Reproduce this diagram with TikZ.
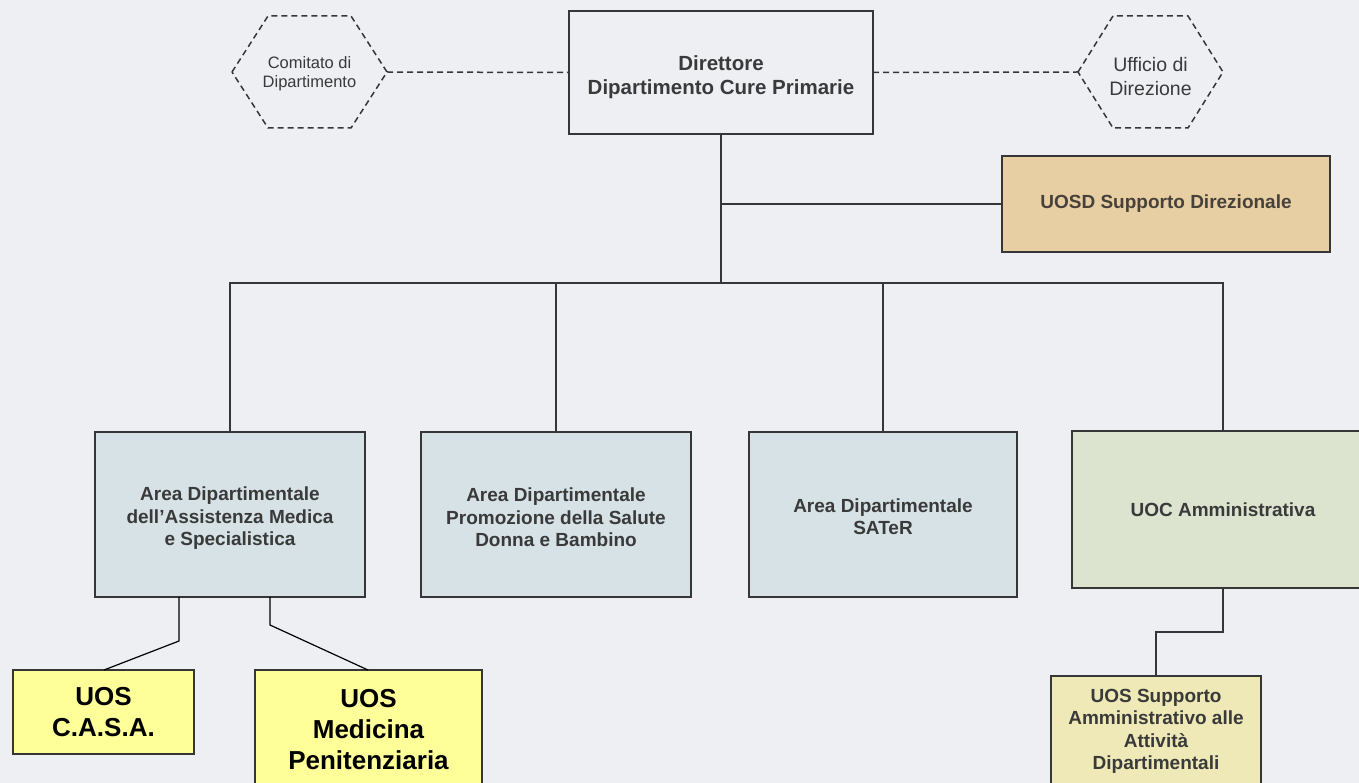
\documentclass[tikz,border=0pt]{standalone}
\usepackage{fontspec}
\setmainfont{Liberation Sans}
\definecolor{bgcol}{HTML}{EDEFF3}
\definecolor{linecol}{HTML}{363636}
\definecolor{txtcol}{HTML}{3A3A3A}
\definecolor{areafill}{HTML}{D6E2E6}
\definecolor{tanfill}{HTML}{E8CFA3}
\definecolor{greenfill}{HTML}{DCE4CF}
\definecolor{paleyellow}{HTML}{EEE9B6}
\definecolor{brightyellow}{HTML}{FFFF99}
\tikzset{
  boxbase/.style={draw=linecol, line width=1.8pt, rectangle, outer sep=0pt, inner sep=2pt, align=center, text=txtcol},
  dirbox/.style={boxbase, fill=bgcol},
  dirtext/.style={align=center, text=txtcol, inner sep=0pt, font=\fontsize{20.5}{24}\selectfont\bfseries},
  areabox/.style={boxbase, fill=areafill},
  areatext/.style={align=center, text=txtcol, inner sep=0pt, font=\fontsize{19}{22.5}\selectfont\bfseries},
  hexnode/.style={rectangle, outer sep=0pt, inner sep=0pt},
  hextext/.style={align=center, text=txtcol, inner sep=0pt},
  dashline/.style={draw=linecol, line width=1.5pt, dash pattern=on 6pt off 4pt},
  conn/.style={draw=linecol, line width=1.8pt},
  thinconn/.style={draw=black, line width=1.2pt},
  uosbox/.style={draw=linecol, line width=1.6pt, rectangle, outer sep=0pt, inner sep=2pt, align=center, fill=brightyellow, text=black, font=\fontsize{26}{31}\selectfont\bfseries}
}
\begin{document}
\begin{tikzpicture}[x=1pt, y=-1pt]
\fill[bgcol] (0,0) rectangle (1359,783);
\useasboundingbox (0,0) rectangle (1359,783);

% top row
\node[dirbox, minimum width=304pt, minimum height=123pt] (dir) at (721,72.5) {};
\node[dirtext] (dirtxt) at ([yshift=-5pt]dir.center) {Direttore\\Dipartimento Cure Primarie};
\node[hexnode, minimum width=155pt, minimum height=112pt] (com) at (309.5,72) {};
\node[hextext, font=\fontsize{16.5}{19}\selectfont] (comtxt) at ([yshift=-1.5pt]com.center) {Comitato di\\Dipartimento};
\node[hexnode, minimum width=145pt, minimum height=112pt] (uff) at (1150.5,72) {};
\node[hextext, font=\fontsize{19.5}{24}\selectfont] (ufftxt) at ([yshift=-4.5pt]uff.center) {Ufficio di\\Direzione};

\draw[dashline] (com.west) -- ([xshift=36pt]com.north west) -- ([xshift=-36pt]com.north east) -- (com.east) -- ([xshift=-36pt]com.south east) -- ([xshift=36pt]com.south west) -- cycle;
\draw[dashline] (uff.west) -- ([xshift=35pt]uff.north west) -- ([xshift=-35pt]uff.north east) -- (uff.east) -- ([xshift=-35pt]uff.south east) -- ([xshift=35pt]uff.south west) -- cycle;

\draw[dashline] (com.east) -- (dir.west);
\draw[dashline] (dir.east) -- (uff.west);

% staff
\node[boxbase, fill=tanfill, text=txtcol!90!brown, minimum width=328pt, minimum height=96pt, font=\fontsize{19}{22.5}\selectfont\bfseries] (uosd) at (1166,204) {UOSD Supporto Direzionale};

% areas
\node[areabox, minimum width=270pt, minimum height=165pt] (a1) at (230,514.5) {};
\node[areatext] (a1txt) at ([yshift=-4pt]a1.center) {Area Dipartimentale\\dell’Assistenza Medica\\e Specialistica};
\node[areabox, minimum width=270pt, minimum height=165pt] (a2) at (556,514.5) {};
\node[areatext] (a2txt) at ([yshift=-3pt]a2.center) {Area Dipartimentale\\Promozione della Salute\\Donna e Bambino};
\node[areabox, minimum width=268pt, minimum height=165pt] (a3) at (883,514.5) {};
\node[areatext] (a3txt) at ([yshift=-2pt]a3.center) {Area Dipartimentale\\SATeR};
\node[boxbase, fill=greenfill, minimum width=302pt, minimum height=157pt, font=\fontsize{19}{22.5}\selectfont\bfseries] (a4) at (1223,509.5) {UOC Amministrativa};

% bottom units
\node[uosbox, minimum width=181pt, minimum height=84pt] (casa) at (103.5,712) {UOS\\C.A.S.A.};
\node[uosbox, minimum width=227pt, minimum height=120pt] (med) at (368.5,730) {UOS\\Medicina\\Penitenziaria};
\node[boxbase, fill=paleyellow, minimum width=210pt, minimum height=111pt, font=\fontsize{19}{22.5}\selectfont\bfseries] (sup) at (1156,731.5) {UOS Supporto\\Amministrativo alle\\Attività\\Dipartimentali};

% connectors
\coordinate (bus) at (721,283);
\draw[conn] (dir.south) -- (bus);
\draw[conn] (uosd.west) -- (uosd.west -| dir.south);
\draw[conn] (a1.north) -- (a1.north |- bus) -- (a4.north |- bus) -- (a4.north);
\draw[conn] (a2.north) -- (a2.north |- bus);
\draw[conn] (a3.north) -- (a3.north |- bus);
\draw[conn] (a4.south) -- ++(0,44) -| (sup.north);

\coordinate (c1) at (179,597);
\coordinate (c1b) at (179,641);
\coordinate (c2) at (270,597);
\coordinate (c2b) at (270,625);
\coordinate (casatop) at (104,670);
\coordinate (medtop) at (368,670);
\draw[thinconn] (c1) -- (c1b) -- (casatop);
\draw[thinconn] (c2) -- (c2b) -- (medtop);
\end{tikzpicture}
\end{document}
